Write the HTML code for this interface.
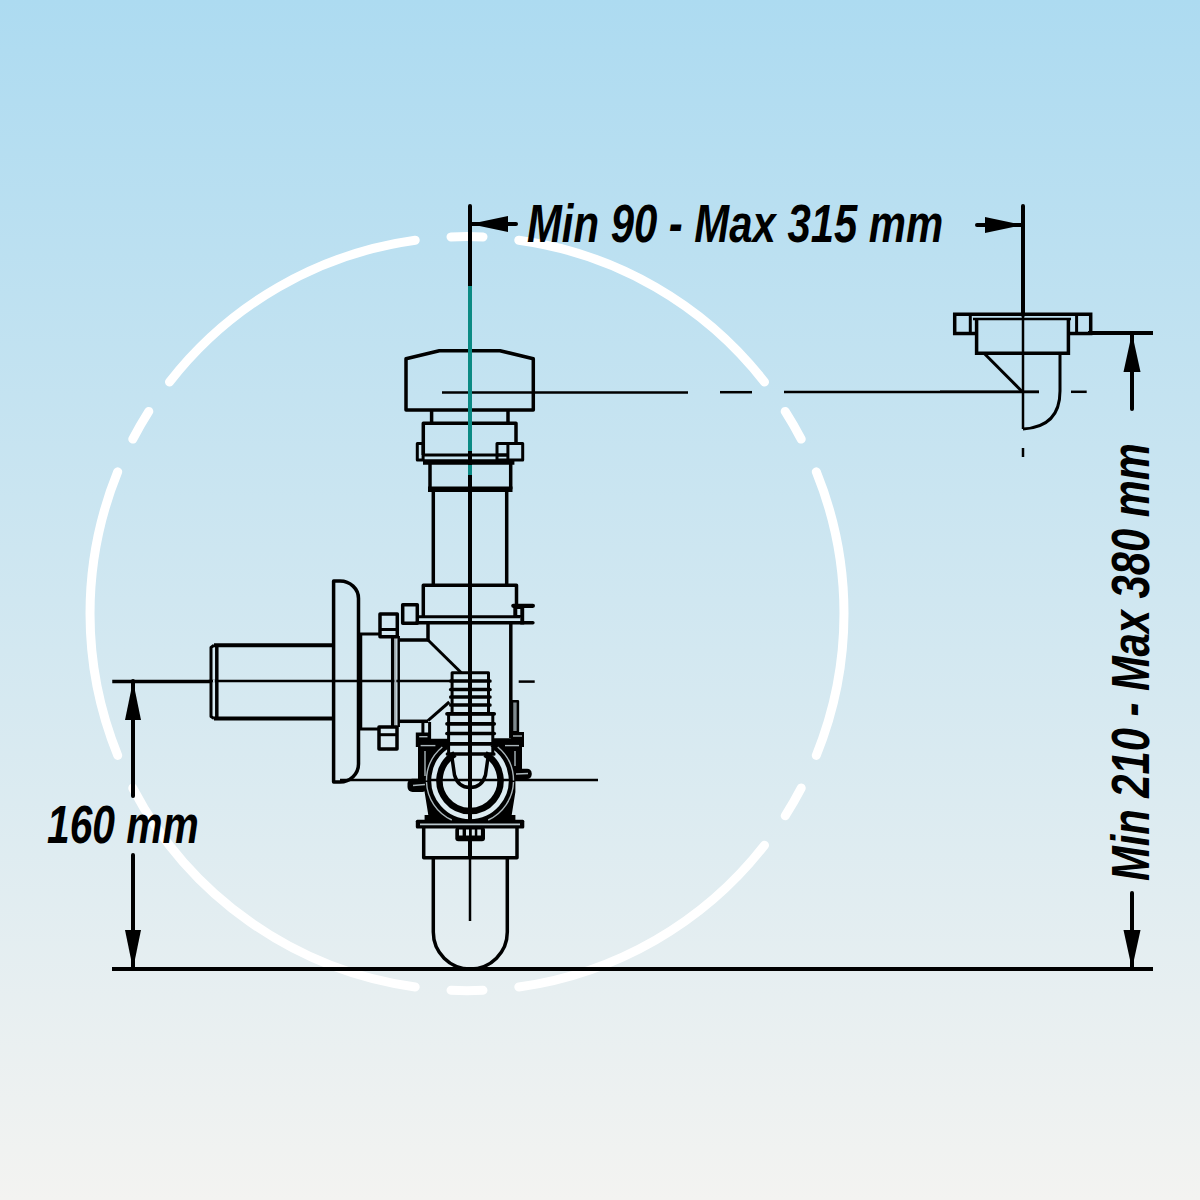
<!DOCTYPE html>
<html><head><meta charset="utf-8"><style>
html,body{margin:0;padding:0}
body{width:1200px;height:1200px;overflow:hidden;position:relative;
background:linear-gradient(to bottom,#ADDBF1 0%,#D0E7F1 50%,#F3F3F1 100%);
font-family:"Liberation Sans",sans-serif}
svg{position:absolute;left:0;top:0}
.t{position:absolute;font-weight:bold;font-style:italic;font-size:53.5px;white-space:nowrap;line-height:1;color:#000;transform-origin:0 0}
</style></head><body>
<svg width="1200" height="1200" viewBox="0 0 1200 1200">
<path d="M451.0 236.9A377.0 377.0 0 0 1 483.0 236.9 M785.2 411.4A377.0 377.0 0 0 1 801.2 439.1 M801.2 788.1A377.0 377.0 0 0 1 785.2 815.8 M483.0 990.3A377.0 377.0 0 0 1 451.0 990.3 M132.8 439.1A377.0 377.0 0 0 1 148.8 411.4 M518.8 240.2A377.0 377.0 0 0 1 764.5 382.0 M816.3 471.8A377.0 377.0 0 0 1 816.3 755.4 M764.5 845.2A377.0 377.0 0 0 1 518.8 987.0 M117.7 755.4A377.0 377.0 0 0 1 117.7 471.8 M169.5 382.0A377.0 377.0 0 0 1 415.2 240.2 M415.2 987.0A377.0 377.0 0 0 1 132.8 788.1" fill="none" stroke="#fff" stroke-width="9" stroke-linecap="round"/>
<g fill="none" stroke="#000" stroke-width="3" stroke-linecap="square">
<!-- dimension lines -->
<line x1="470" y1="206" x2="470" y2="330" stroke-width="4" stroke-linecap="round"/>
<line x1="1023" y1="206" x2="1023" y2="315" stroke-width="4" stroke-linecap="round"/>
<line x1="470" y1="224" x2="516" y2="224" stroke-width="4" stroke-linecap="round"/>
<line x1="977" y1="225" x2="1023" y2="225" stroke-width="4" stroke-linecap="round"/>
<line x1="1090" y1="333" x2="1151" y2="333" stroke-width="4"/>
<line x1="1132" y1="333" x2="1132" y2="409" stroke-width="4" stroke-linecap="round"/>
<line x1="1132" y1="893" x2="1132" y2="969" stroke-width="4" stroke-linecap="round"/>
<line x1="114" y1="969" x2="1151" y2="969" stroke-width="4"/>
<line x1="114" y1="681.5" x2="210" y2="681.5" stroke-width="3.5"/>
<line x1="210" y1="681" x2="452" y2="681" stroke-width="2.5"/>
<line x1="133" y1="681" x2="133" y2="796" stroke-width="4" stroke-linecap="round"/>
<line x1="133" y1="855" x2="133" y2="969" stroke-width="4" stroke-linecap="round"/>
</g>
<g fill="#000" stroke="none">
<path d="M470 224 L508 216 L508 232 Z"/>
<path d="M1023 225 L985 217 L985 233 Z"/>
<path d="M1132 333 L1123.5 372 L1140.5 372 Z"/>
<path d="M1132 969 L1123.5 930 L1140.5 930 Z"/>
<path d="M133 681 L125 720 L141 720 Z"/>
<path d="M133 969 L125 930 L141 930 Z"/>
</g>
<!-- main drawing -->
<g fill="none" stroke="#000" stroke-width="3.5" stroke-linejoin="round">
<!-- center line -->
<line x1="470" y1="330" x2="470" y2="856" stroke-width="4"/>
<line x1="470" y1="856" x2="470" y2="921" stroke-width="2.5"/>
<!-- cap -->
<path d="M406 410 V358.7 L439.3 350.7 H500 L533.3 358.7 V410 Z"/>
<line x1="442" y1="392.4" x2="688" y2="392.4" stroke-width="2.5"/>
<line x1="720" y1="392.2" x2="752" y2="392.2" stroke-width="2.5"/>
<line x1="784" y1="392" x2="1039" y2="392" stroke-width="2.5"/>
<!-- neck -->
<line x1="431.6" y1="410" x2="431.6" y2="423.3"/>
<line x1="508" y1="410" x2="508" y2="423.3"/>
<!-- upper nut -->
<path d="M423.3 455 V423.3 H516 V442"/>
<rect x="417.3" y="443.4" width="5.8" height="16.5" stroke-width="3"/>
<line x1="423" y1="455" x2="507.9" y2="455" stroke-width="3"/>
<line x1="423" y1="462" x2="514.4" y2="462" stroke-width="5.4"/>
<rect x="497" y="443.4" width="25.7" height="16.6" stroke-width="3"/>
<line x1="507.9" y1="443.4" x2="507.9" y2="460" stroke-width="3"/>
<line x1="497" y1="455" x2="507.9" y2="455" stroke-width="3"/>
<!-- upper pipe -->
<line x1="430" y1="463" x2="430" y2="489.3"/>
<line x1="510.7" y1="463" x2="510.7" y2="489.3"/>
<line x1="428" y1="489.3" x2="512.5" y2="489.3" stroke-width="5.5"/>
<!-- long pipe -->
<line x1="433.3" y1="489" x2="433.3" y2="585.3"/>
<line x1="506.7" y1="489" x2="506.7" y2="585.3"/>
<!-- lower nut -->
<path d="M423.3 617 V585.3 H516.5 V605"/>
<line x1="417" y1="616.7" x2="520" y2="616.7" stroke-width="3"/>
<line x1="417" y1="622.8" x2="532.9" y2="622.8" stroke-width="3.5" stroke-linecap="round"/>
<rect x="402.7" y="604.7" width="14.6" height="18.6"/>
<path d="M513.3 604 H524.2 V624.6 H520.3 V617.5 H513.3 Z M517.3 609 H520.3 V615 H517.3 Z" fill="#000" fill-rule="evenodd" stroke="none"/>
<line x1="513.3" y1="605.8" x2="532.9" y2="605.8" stroke-width="4.2" stroke-linecap="round"/>
<!-- tee body -->
<path d="M428 623 V640 H398.7"/>
<line x1="428" y1="640" x2="461.3" y2="672.7" stroke-width="3"/>
<line x1="510.8" y1="622" x2="510.8" y2="738"/>
<line x1="428" y1="720.7" x2="449.3" y2="702" stroke-width="3"/>
<line x1="398" y1="721.3" x2="428" y2="721.3"/>
<!-- left fitting -->
<line x1="392.7" y1="636" x2="392.7" y2="727"/>
<line x1="398.7" y1="636" x2="398.7" y2="727" stroke-width="2.5"/>
<rect x="394.4" y="637" width="2" height="89" fill="#a7b2b6" stroke="none"/>
<rect x="380" y="614" width="17.3" height="22.7"/>
<line x1="380" y1="629.5" x2="397.3" y2="629.5" stroke-width="3"/>
<rect x="379" y="727" width="18" height="22"/>
<line x1="379" y1="734.7" x2="397" y2="734.7" stroke-width="3"/>
<path d="M380 634 H360 V729 H380" stroke-width="3"/>
<line x1="360" y1="634" x2="360" y2="729" stroke-width="4.5"/>
<!-- wall flange -->
<path d="M333.6 782 V581 H340 A18.5 17.5 0 0 1 358.5 598.5 V764 A18.5 18 0 0 1 340 782 Z"/>
<line x1="340" y1="780" x2="598" y2="780" stroke-width="2.5"/>
<!-- horizontal pipe -->
<line x1="333.6" y1="645.3" x2="214" y2="645.3" stroke-width="4" stroke-linecap="butt"/>
<line x1="333.6" y1="718.4" x2="214" y2="718.4" stroke-width="4" stroke-linecap="butt"/>
<path d="M214 645.3 L211 647.5 V716.5 L214 718.4" stroke-width="3"/>
<line x1="216.8" y1="645.3" x2="216.8" y2="718.4" stroke-width="3.5"/>
<line x1="213" y1="681.2" x2="214.8" y2="681.2" stroke="#d6e7f0" stroke-width="3" stroke-linecap="butt"/>
<!-- dash right -->
<line x1="518.7" y1="681.6" x2="534.7" y2="681.6" stroke-width="2.5"/>
<!-- ribbed insert -->
<g stroke-width="3">
<path d="M452.1 713.8 V672.8 H488.5 V713.8"/>
<path d="M448.6 754 V713.8 H492.8 V754"/>
</g>
<g stroke-width="3.7" stroke-linecap="round">
<line x1="450.8" y1="681" x2="489.9" y2="681"/>
<line x1="450.8" y1="689.5" x2="489.9" y2="689.5"/>
<line x1="450.8" y1="697" x2="489.9" y2="697"/>
<line x1="450.8" y1="705" x2="489.9" y2="705"/>
<line x1="447" y1="713.8" x2="494.2" y2="713.8"/>
<line x1="447" y1="723.8" x2="494.2" y2="723.8"/>
<line x1="447" y1="733.5" x2="494.2" y2="733.5"/>
<line x1="447" y1="743.8" x2="494.2" y2="743.8"/>
<line x1="447.5" y1="754" x2="493.8" y2="754"/>
</g>
<!-- trap housing -->
<g fill="#000" stroke="none">
<path d="M415.8 732.5 H430 V738.8 H448 V747 H415.8 Z"/>
<path d="M492.5 738.3 H510.8 V732 H524 V747 H492.5 Z"/>
<path d="M418 746 H449.8 A40 40 0 0 0 430.5 781 H418 Z"/>
<path d="M522 746 H490.2 A40 40 0 0 1 509.5 781 H522 Z"/>
<path d="M424.6 781 H430 A40 40 0 0 0 462 820 H424.6 V815 H428.3 L424.6 792 Z"/>
<path d="M515.4 781 H510 A40 40 0 0 1 478 820 H515.4 V815 H511.7 L515.4 792 Z"/>
<rect x="415.8" y="819.8" width="108.5" height="8.7" rx="1.5"/>
<rect x="407.5" y="778.7" width="20" height="13.3" rx="5"/>
<rect x="512" y="768.7" width="19.7" height="10.3" rx="4.5"/>
</g>
<line x1="422.9" y1="722" x2="422.9" y2="733" stroke-width="3"/>
<line x1="429.6" y1="722" x2="429.6" y2="739" stroke-width="3"/>
<path d="M492.5 747.4 A40 40 0 1 1 447.5 747.4" stroke-width="2.5"/>
<g stroke="#aab6bb" stroke-width="1.4" fill="none">
<path d="M442.3 747 A43.5 43.5 0 0 0 426.5 780.5"/>
<path d="M497.7 747 A43.5 43.5 0 0 1 513.5 780.5"/>
<path d="M426.5 782 A43.5 43.5 0 0 0 451.8 820"/>
<path d="M513.5 782 A43.5 43.5 0 0 1 488.2 820"/>
<line x1="420" y1="824.3" x2="520" y2="824.3" stroke="#b9c7cd" stroke-width="1.8"/>
<line x1="419.2" y1="736.7" x2="427.5" y2="736.7"/>
<line x1="420.6" y1="745.6" x2="435.4" y2="745.6"/>
<line x1="513" y1="736" x2="522" y2="736"/>
<line x1="505" y1="745.6" x2="519" y2="745.6"/>
<line x1="425" y1="751" x2="425" y2="776"/>
<line x1="515" y1="751" x2="515" y2="766"/>
<line x1="413" y1="785.5" x2="425" y2="784.5"/>
<line x1="516" y1="774" x2="528" y2="773.5"/>
</g>
<path d="M485.1 754 A30.5 30.5 0 1 1 454.9 754" stroke-width="6.5"/>
<path d="M451.5 754 L454.5 775 Q458 787.5 470 787.5 Q482 787.5 485.5 775 L488.5 754" stroke-width="3.5"/>
<rect x="512" y="701.3" width="5.9" height="31" fill="#7f8a8f" stroke-width="2.5"/>
<!-- bolt nut -->
<rect x="455.3" y="827" width="29.7" height="14.3" rx="3" fill="#000" stroke="none"/>
<g fill="#dde9ee" stroke="none"><rect x="459" y="829.5" width="3.6" height="6"/><rect x="466" y="829.5" width="3" height="6"/><rect x="471.8" y="829.5" width="3" height="6"/><rect x="477.3" y="829.5" width="3.6" height="6"/></g>
<!-- lower fitting -->
<path d="M423.7 827.5 V857.7 H517 V827.5"/>
<!-- U tube -->
<path d="M433.3 858.7 V932 A37 37 0 0 0 507.3 932 V858.7"/>
</g>
<!-- teal overlay -->
<g stroke="#0B8A84" stroke-width="4">
<line x1="470" y1="286" x2="470" y2="451"/>
<line x1="470" y1="465" x2="470" y2="475"/>
</g>
<!-- right drain fitting -->
<g fill="none" stroke="#000" stroke-width="3.5">
<line x1="1023" y1="315" x2="1023" y2="429" stroke-width="2.5"/>
<line x1="1023" y1="448" x2="1023" y2="457" stroke-width="2.5"/>
<path d="M977 333.6 H954.7 V314.2 H1090.7 V333.6 H1068"/>
<line x1="973" y1="319" x2="1071" y2="319" stroke-width="2.5"/>
<line x1="970.3" y1="314.2" x2="970.3" y2="333.6" stroke-width="3"/>
<line x1="1076.6" y1="314.2" x2="1076.6" y2="333.6" stroke-width="3"/>
<path d="M976.6 318 V353.3 H1068.4 V318"/>
<line x1="984" y1="353.3" x2="1021.6" y2="391" stroke-width="3"/>
<line x1="940" y1="391.8" x2="1039" y2="391.8" stroke-width="2.5"/>
<line x1="1071" y1="391.8" x2="1086.7" y2="391.8" stroke-width="2.5"/>
<path d="M1060 353.3 V391 Q1060 427 1023 429" stroke-width="3"/>
</g>

</svg>
<div class="t" id="t1" style="left:526.7px;top:196.8px;transform:scaleX(0.782)">Min 90 - Max 315 mm</div>
<div class="t" id="t2" style="left:47.2px;top:798.2px;transform:scaleX(0.762)">160 mm</div>
<div class="t" id="t3" style="left:1104.2px;top:880.8px;transform:rotate(-90deg) scaleX(0.779)">Min 210 - Max 380 mm</div>
</body></html>
